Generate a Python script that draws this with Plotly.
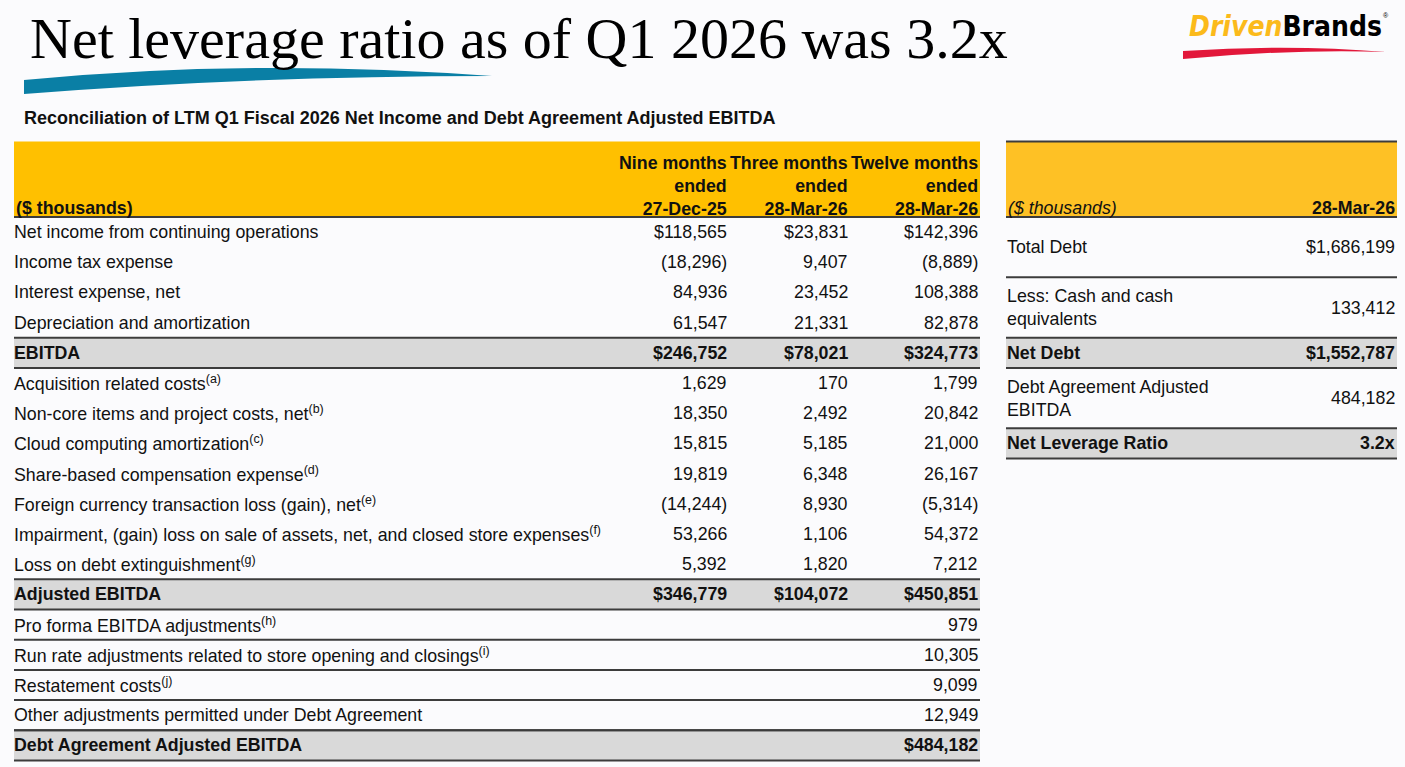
import plotly.graph_objects as go

# reconciliation table (left)
row_labels = [
    "Net income from continuing operations",
    "Income tax expense",
    "Interest expense, net",
    "Depreciation and amortization",
    "EBITDA",
    "Acquisition related costs",
    "Non-core items and project costs, net",
    "Cloud computing amortization",
    "Share-based compensation expense",
    "Foreign currency transaction loss (gain), net",
    "Impairment, (gain) loss on sale of assets, net, and closed store expenses",
    "Loss on debt extinguishment",
    "Adjusted EBITDA",
    "Pro forma EBITDA adjustments",
    "Run rate adjustments related to store opening and closings",
    "Restatement costs",
    "Other adjustments permitted under Debt Agreement",
    "Debt Agreement Adjusted EBITDA",
]
row_notes = ["", "", "", "", "", "a", "b", "c", "d", "e", "f", "g", "", "h", "i", "j", "", ""]
total_rows = [4, 12, 17]
dollar_rows = [0, 4, 12, 17]

nine_months = [118565, -18296, 84936, 61547, 246752, 1629, 18350, 15815, 19819,
               -14244, 53266, 5392, 346779, None, None, None, None, None]
three_months = [23831, 9407, 23452, 21331, 78021, 170, 2492, 5185, 6348,
                8930, 1106, 1820, 104072, None, None, None, None, None]
twelve_months = [142396, -8889, 108388, 82878, 324773, 1799, 20842, 21000, 26167,
                 -5314, 54372, 7212, 450851, 979, 10305, 9099, 12949, 484182]
period_headers = ["Nine months<br>ended<br>27-Dec-25",
                  "Three months<br>ended<br>28-Mar-26",
                  "Twelve months<br>ended<br>28-Mar-26"]

# net leverage table (right)
debt_labels = ["Total Debt", "Less: Cash and cash<br>equivalents", "Net Debt",
               "Debt Agreement Adjusted<br>EBITDA", "Net Leverage Ratio"]
debt_values = [1686199, 133412, 1552787, 484182]
leverage_ratio = 3.2
debt_total_rows = [2, 4]
debt_dollar_rows = [0, 2]
debt_date = "28-Mar-26"

title = "Net leverage ratio as of Q1 2026 was 3.2x"
subtitle = "Reconciliation of LTM Q1 Fiscal 2026 Net Income and Debt Agreement Adjusted EBITDA"

# ---- layout constants ----
W, H = 1405, 767
ROW_H = 30.2          # pixels per table row
ROW0_PX = 232         # centre of first table row
HEADER_TOP = -3.0     # header top, in row units
LEFT_X0, LEFT_X1 = 14, 980
VALUE_X = [729, 850, 980]
RIGHT_X0, RIGHT_X1 = 1006, 1397
DEBT_ROW_SPAN = [2, 2, 1, 2, 1]

YELLOW = "#FFC000"
GRAY = "#D9D9D9"
LINE = "#3c3c3c"
TEXT = "#111111"
SANS = "Liberation Sans, Arial, sans-serif"
FS = 17.8


def fmt(v, dollar=False):
    s = f"{abs(v):,}"
    if dollar:
        s = "$" + s
    return f"({s})" if v < 0 else s


def paper(x, y):
    return x / W, 1 - y / H


def path(points):
    # points: list of (cmd, x, y) in pixels -> paper path string
    out = []
    for cmd, x, y in points:
        px, py = paper(x, y)
        out.append(f"{cmd} {px:.5f},{py:.5f}")
    return " ".join(out) + " Z"


fig = go.Figure()
shapes = []
notes = []


def hline(x0, x1, y, width=2):
    shapes.append(dict(type="line", xref="x", yref="y", x0=x0, x1=x1, y0=y, y1=y,
                       line=dict(color=LINE, width=width), layer="above"))


def fill(x0, x1, y0, y1, color):
    shapes.append(dict(type="rect", xref="x", yref="y", x0=x0, x1=x1, y0=y0, y1=y1,
                       fillcolor=color, line=dict(width=0), layer="below"))


def text(x, y, s, anchor="left", size=FS, bold=False, italic=False, family=SANS,
         color=TEXT, align=None, yanchor="middle"):
    if bold:
        s = f"<b>{s}</b>"
    if italic:
        s = f"<i>{s}</i>"
    notes.append(dict(x=x, y=y, xref="x", yref="y", text=s, showarrow=False,
                      xanchor=anchor, yanchor=yanchor, align=align or anchor,
                      font=dict(family=family, size=size, color=color)))


# ---- left table ----
fill(LEFT_X0, LEFT_X1, HEADER_TOP, -0.5, YELLOW)
hline(LEFT_X0, LEFT_X1, -0.5)
text(LEFT_X0, (208 - ROW0_PX) / ROW_H, "($ thousands)", bold=True)
for hdr, xr in zip(period_headers, VALUE_X):
    text(xr, (186 - ROW0_PX) / ROW_H, hdr, anchor="right", bold=True)

columns = [nine_months, three_months, twelve_months]
for i, lab in enumerate(row_labels):
    bold = i in total_rows
    if bold:
        fill(LEFT_X0, LEFT_X1, i - 0.5, i + 0.5, GRAY)
        hline(LEFT_X0, LEFT_X1, i - 0.5)
        hline(LEFT_X0, LEFT_X1, i + 0.5)
    elif i > total_rows[1]:
        hline(LEFT_X0, LEFT_X1, i + 0.5)
    s = lab + (f"<sup>({row_notes[i]})</sup>" if row_notes[i] else "")
    text(LEFT_X0 - 2, i, s, bold=bold)
    for col, xr in zip(columns, VALUE_X):
        if col[i] is not None:
            text(xr, i, fmt(col[i], i in dollar_rows), anchor="right", bold=bold)

# ---- right table ----
fill(RIGHT_X0, RIGHT_X1, HEADER_TOP, -0.5, "#FEC125")
hline(RIGHT_X0, RIGHT_X1, HEADER_TOP)
hline(RIGHT_X0, RIGHT_X1, -0.5)
text(RIGHT_X0, (208 - ROW0_PX) / ROW_H, "($ thousands)", italic=True)
text(RIGHT_X1, (208 - ROW0_PX) / ROW_H, debt_date, anchor="right", bold=True)

debt_text = [fmt(v, i in debt_dollar_rows) for i, v in enumerate(debt_values)] + [f"{leverage_ratio}x"]
top = -0.5
for i, (lab, val, span) in enumerate(zip(debt_labels, debt_text, DEBT_ROW_SPAN)):
    bottom = top + span
    mid = (top + bottom) / 2
    bold = i in debt_total_rows
    if bold:
        fill(RIGHT_X0, RIGHT_X1, top, bottom, GRAY)
    hline(RIGHT_X0, RIGHT_X1, bottom)
    text(RIGHT_X0 - 1, mid, lab, bold=bold)
    text(RIGHT_X1, mid, val, anchor="right", bold=bold)
    top = bottom

# ---- title, subtitle, logo ----
tx, ty = paper(28, 38)
notes.append(dict(x=tx, y=ty, xref="paper", yref="paper", text=title, showarrow=False,
                  xanchor="left", yanchor="middle",
                  font=dict(family="Liberation Serif, Times New Roman, serif", size=58, color="#000")))
sx, sy = paper(22, 118)
notes.append(dict(x=sx, y=sy, xref="paper", yref="paper", text=f"<b>{subtitle}</b>",
                  showarrow=False, xanchor="left", yanchor="middle",
                  font=dict(family=SANS, size=18, color=TEXT)))
lx, ly = paper(1384, 27)
notes.append(dict(x=lx, y=ly, xref="paper", yref="paper",
                  text="<span style='color:#FBBA1B'><b><i>Driven</i></b></span><b>Brands</b>",
                  showarrow=False, xanchor="right", yanchor="middle",
                  font=dict(family="DejaVu Sans Condensed, Liberation Sans Narrow, Arial Narrow, sans-serif",
                            size=28, color="#000")))
rx, ry = paper(1381, 16)
notes.append(dict(x=rx, y=ry, xref="paper", yref="paper", text="®", showarrow=False,
                  xanchor="left", yanchor="middle", font=dict(family=SANS, size=7, color="#000")))

shapes.append(dict(type="path", xref="paper", yref="paper", layer="above",
                   path=path([("M", 24, 80), ("Q", 250, 58), ("", 492, 76),
                              ("Q", 250, 76), ("", 24, 94)]),
                   fillcolor="#0A7FA5", line=dict(width=0)))
shapes.append(dict(type="path", xref="paper", yref="paper", layer="above",
                   path=path([("M", 1183, 51), ("Q", 1290, 44), ("", 1386, 52),
                              ("Q", 1290, 49), ("", 1183, 59)]),
                   fillcolor="#E2173A", line=dict(width=0)))

fig.update_layout(
    width=W, height=H,
    margin=dict(l=0, r=0, t=0, b=0),
    paper_bgcolor="#FBFBFD",
    plot_bgcolor="rgba(0,0,0,0)",
    showlegend=False,
    xaxis=dict(range=[0, W], visible=False, fixedrange=True),
    yaxis=dict(range=[(H - ROW0_PX) / ROW_H, -ROW0_PX / ROW_H], visible=False, fixedrange=True),
    shapes=shapes,
    annotations=notes,
)
fig.write_html("out.html", config={"displayModeBar": False},
               post_script="document.body.style.margin='0px';document.body.style.overflow='hidden';")
